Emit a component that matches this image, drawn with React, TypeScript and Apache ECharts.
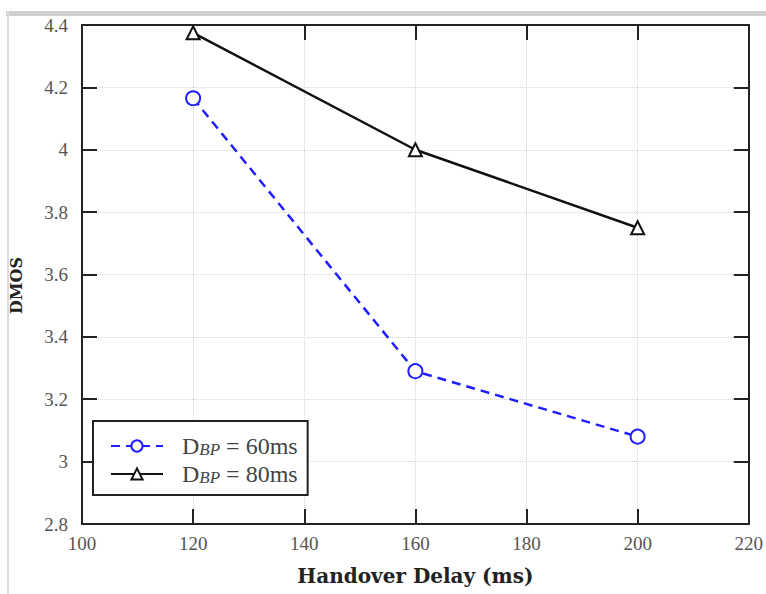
import React, { useEffect, useRef } from "react";
import * as echarts from "echarts";

const xValues = [120, 160, 200];
const dmos60 = [4.165, 3.29, 3.08];
const dmos80 = [4.375, 4.0, 3.75];
const seriesNames = ["D{sub|BP} = 60ms", "D{sub|BP} = 80ms"];

const FONT = "'Liberation Serif', 'DejaVu Serif', serif";
const BOLD_FONT = "'DejaVu Serif', 'Liberation Serif', serif";

export default function App() {
  const ref = useRef<HTMLDivElement>(null);
  useEffect(() => {
    if (!ref.current) return;
    const chart = echarts.init(ref.current, undefined, { renderer: "svg" });
    const axisCommon = {
      axisLine: { show: true, lineStyle: { color: "#222", width: 2 } },
      axisTick: { show: true, inside: true, length: 15, lineStyle: { color: "#222", width: 2 } },
    };
    chart.setOption({
      animation: false,
      backgroundColor: "#fff",
      textStyle: { fontFamily: FONT },
      grid: { left: 80, right: 15, top: 25, bottom: 70 },
      graphic: [
        { type: "rect", shape: { x: 6, y: 11, width: 760, height: 5 }, style: { fill: "#d0d0d0" }, silent: true },
        { type: "rect", shape: { x: 7, y: 11, width: 2, height: 583 }, style: { fill: "#dcdcdc" }, silent: true },
      ],
      xAxis: [
        {
          type: "value",
          min: 100,
          max: 220,
          interval: 20,
          name: "Handover Delay (ms)",
          nameLocation: "middle",
          nameGap: 42,
          nameTextStyle: { fontFamily: BOLD_FONT, fontWeight: "bold", fontSize: 20, color: "#222" },
          ...axisCommon,
          axisLabel: { fontFamily: FONT, fontSize: 19, color: "#555", margin: 10 },
          splitLine: { show: true, lineStyle: { color: "#d4d4d4", type: "dotted", width: 1 } },
        },
        {
          type: "value",
          position: "top",
          min: 100,
          max: 220,
          interval: 20,
          ...axisCommon,
          axisLabel: { show: false },
          splitLine: { show: false },
        },
      ],
      yAxis: [
        {
          type: "value",
          min: 2.8,
          max: 4.4,
          interval: 0.2,
          name: "DMOS",
          nameLocation: "middle",
          nameGap: 58,
          nameRotate: 90,
          nameTextStyle: { fontFamily: BOLD_FONT, fontWeight: "bold", fontSize: 16, color: "#222", padding: [0, 0, 0, -22] },
          ...axisCommon,
          axisLabel: {
            fontFamily: FONT,
            fontSize: 19,
            color: "#555",
            margin: 14,
            formatter: (v: number) => String(Math.round(v * 10) / 10),
          },
          splitLine: { show: true, lineStyle: { color: "#d4d4d4", type: "dotted", width: 1 } },
        },
        {
          type: "value",
          position: "right",
          min: 2.8,
          max: 4.4,
          interval: 0.2,
          ...axisCommon,
          axisLabel: { show: false },
          splitLine: { show: false },
        },
      ],
      legend: {
        orient: "vertical",
        left: 93,
        top: 421,
        padding: [12, 10, 9, 17],
        itemGap: 3,
        itemWidth: 52,
        itemHeight: 14,
        borderColor: "#222",
        borderWidth: 2,
        borderRadius: 0,
        backgroundColor: "#fff",
        textStyle: {
          fontFamily: FONT,
          fontSize: 24,
          lineHeight: 24,
          color: "#444",
          padding: [0, 0, 0, 14],
          rich: {
            sub: {
              fontFamily: FONT,
              fontStyle: "italic",
              fontSize: 17,
              lineHeight: 24,
              color: "#444",
              verticalAlign: "bottom",
              padding: [8, 0, 0, 0],
            },
          },
        },
        data: seriesNames,
      },
      series: [
        {
          name: seriesNames[0],
          type: "line",
          data: xValues.map((x, i) => [x, dmos60[i]]),
          symbol: "circle",
          symbolSize: 14,
          itemStyle: { color: "#fff", borderColor: "#1f1fff", borderWidth: 2 },
          lineStyle: { color: "#1f1fff", width: 2.5, type: [9, 6] },
          color: "#1f1fff",
        },
        {
          name: seriesNames[1],
          type: "line",
          data: xValues.map((x, i) => [x, dmos80[i]]),
          symbol: "triangle",
          symbolSize: 13,
          itemStyle: { color: "#fff", borderColor: "#111", borderWidth: 2 },
          lineStyle: { color: "#111", width: 2.5 },
          color: "#111",
        },
      ],
    });
    return () => chart.dispose();
  }, []);
  return (
    <div
      ref={ref}
      style={{ position: "fixed", left: 0, top: 0, width: 766, height: 594, background: "#fff" }}
    />
  );
}
